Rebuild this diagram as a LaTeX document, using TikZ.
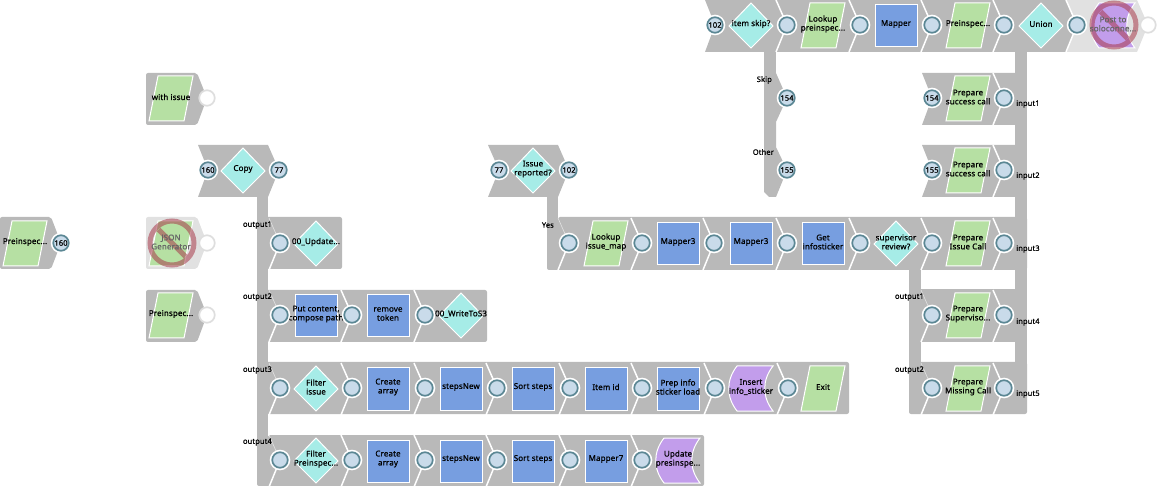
\documentclass[tikz,border=0pt]{standalone}
\usepackage{fontspec}
\setmainfont[FakeBold=0.7,LetterSpace=1.5]{Noto Sans}
\definecolor{bandgray}{HTML}{B9B9B9}
\definecolor{offgray}{HTML}{E1E1E1}
\definecolor{mapblue}{HTML}{779EE0}
\definecolor{docgreen}{HTML}{B6E0A3}
\definecolor{flowteal}{HTML}{A6ECE7}
\definecolor{writepurple}{HTML}{C29DEB}
\definecolor{portring}{HTML}{5B8794}
\definecolor{portfill}{HTML}{C9DBEA}
\definecolor{idlering}{HTML}{DEDEDE}
\definecolor{banred}{HTML}{A73A4B}
\tikzset{
  band/.style={fill=bandgray,draw=none},
  bar/.style={draw=bandgray,line width=11.5pt},
  seam/.style={draw=white,line width=1.5pt},
  faintseam/.style={draw=white,line width=.6pt,opacity=.6},
  iconline/.style={draw=white,line width=1pt},
  snaptext/.style={font=\fontsize{8}{9}\selectfont,align=center,inner sep=0pt},
  offtext/.style={snaptext,text=black!60},
  branch/.style={font=\fontsize{7.5}{9}\selectfont,inner sep=0pt},
  port/.style={circle,draw=portring,fill=portfill,line width=1.7pt,minimum size=15.5pt,inner sep=0pt,
    font=\fontsize{7.5}{9}\selectfont,preaction={draw=white,line width=5pt}},
  idleport/.style={circle,draw=idlering,fill=white,line width=1.7pt,minimum size=15.5pt,inner sep=0pt},
  ban/.style={draw=banred,line width=5pt,opacity=.55}
}
% icon macros: name, x, y, text
\newcommand{\mapicon}[4]{\path[fill=mapblue,iconline] (#2-21,#3-20) rectangle (#2+21,#3+22);
  \node[snaptext] (#1) at (#2,#3-1) {#4};}
\newcommand{\docicon}[4]{\path[fill=docgreen,iconline] (#2-13,#3-22) -- (#2+22,#3-22) -- (#2+13,#3+23) -- (#2-22,#3+23) -- cycle;
  \node[snaptext] (#1) at (#2,#3-1) {#4};}
\newcommand{\flowicon}[4]{\path[fill=flowteal,iconline] (#2,#3-22) -- (#2+22,#3+1) -- (#2,#3+23) -- (#2-22,#3+1) -- cycle;
  \node[snaptext] (#1) at (#2,#3-1) {#4};}
\newcommand{\writeicon}[4]{\path[fill=writepurple,iconline] (#2-14,#3-22) .. controls (#2-25,#3-8) and (#2-25,#3+9) .. (#2-14,#3+23)
  -- (#2+22,#3+23) .. controls (#2+11,#3+9) and (#2+11,#3-8) .. (#2+22,#3-22) -- cycle;
  \node[snaptext] (#1) at (#2,#3-1) {#4};}
% seam at a port: x, y
\newcommand{\seam}[2]{\draw[seam] (#1-11,#2-25) -- (#1,#2) -- (#1-11,#2+27);}
\newcommand{\inseam}[2]{\draw[faintseam] (#1-11,#2-25) -- (#1,#2); \draw[seam] (#1,#2) -- (#1-11,#2+27);}
\newcommand{\banmark}[3]{\node[circle,minimum size=44pt,inner sep=0pt,ban] (#1) at (#2,#3) {};
  \draw[ban] (#2-13.5,#3-13.5) -- (#2+13.5,#3+13.5);}
\begin{document}
\begin{tikzpicture}[x=1pt,y=-1pt]
    \useasboundingbox (0,0) rectangle (1157,486);
    %% Drop bars
    \coordinate (copydrop) at (262.5,197);
    \coordinate (copyfoot) at (262.5,478);
    \coordinate (issuedrop) at (552.5,197);
    \coordinate (issuefoot) at (552.5,262);
    \coordinate (skipdrop) at (770,52);
    \coordinate (skipfoot) at (770,190);
    \coordinate (reviewdrop) at (915,268);
    \coordinate (reviewfoot) at (915,390);
    \coordinate (uniondrop) at (1021,52);
    \coordinate (unionfoot) at (1021,390);
    \draw[bar] (copydrop) -- (copyfoot);
    \draw[bar] (issuedrop) -- (issuefoot);
    \draw[bar] (skipdrop) -- (skipfoot);
    \draw[bar] (reviewdrop) -- (reviewfoot);
    \draw[bar] (uniondrop) -- (unionfoot);
    %% Bands
    \fill[band] (705,0) -- (715,25) -- (705,52) -- (1067,52) -- (1077,25) -- (1066,0) -- cycle;
    \fill[offgray] (1066,0) -- (1077,25) -- (1067,52) -- (1137,52) -- (1148,25) -- (1137,0) -- cycle;
    \fill[band] (776,73) -- (787,98) -- (776,122) -- (776,147) -- (787,170) -- (776,197) -- (769,197) -- (764,192) -- (764,70) -- cycle;
    \fill[band,rounded corners=2pt] (146,73) -- (197,73) -- (207,98) -- (197,125) -- (146,125) -- cycle;
    \fill[offgray,rounded corners=2pt] (146,217) -- (197,217) -- (207,243) -- (197,269) -- (146,269) -- cycle;
    \fill[band,rounded corners=2pt] (146,290) -- (197,290) -- (207,315) -- (197,342) -- (146,342) -- cycle;
    \fill[band,rounded corners=2pt] (0,217) -- (51,217) -- (61,243) -- (51,269) -- (0,269) -- cycle;
    \fill[band] (198,145) -- (208,170) -- (198,197) -- (268,197) -- (279,170) -- (268,145) -- cycle;
    \fill[band] (488,145) -- (499,170) -- (488,197) -- (558,197) -- (569,170) -- (558,145) -- cycle;
    \fill[band] (922,73) -- (932,98) -- (922,125) -- (1020,125) -- (1020,73) -- cycle;
    \fill[band] (922,145) -- (932,170) -- (922,197) -- (1020,197) -- (1020,145) -- cycle;
    \fill[band,rounded corners=2pt] (257,470) -- (257,486) -- (704,486) -- (704,435) -- (268,435) -- cycle;
    \fill[band,rounded corners=2pt] (265,217) rectangle (342,269);
    \fill[band,rounded corners=2pt] (265,290) rectangle (487,342);
    \fill[band,rounded corners=2pt] (265,362) rectangle (849,414);
    \fill[band,rounded corners=2pt] (547,240) -- (547,270) -- (1027,270) -- (1027,217) -- (558,217) -- cycle;
    \fill[band] (915,289) rectangle (1020,342);
    \fill[band,rounded corners=2pt] (909,362) -- (909,414) -- (1027,414) -- (1027,362) -- cycle;
    %% Seams
    \foreach \px in {787,860,932,1004,1077} {\seam{\px}{25}}
    \foreach \px in {642,714,787,860,932,1004} {\seam{\px}{243}}
    \foreach \py in {98,170,315,388} {\seam{1004}{\py}}
    \foreach \py in {243,315,388,460} {\inseam{280}{\py}}
    \inseam{569}{243}
    \inseam{932}{315}
    \inseam{932}{388}
    \foreach \px in {352,425} {\seam{\px}{315}}
    \foreach \px in {352,425,497,570,642,715,788} {\seam{\px}{388}}
    \foreach \px in {352,425,497,570,642} {\seam{\px}{460}}
    %% Top row
    \flowicon{itemskip}{751}{25}{item skip?}
    \docicon{lookuppre}{823}{25}{Lookup\\preinspec...}
    \mapicon{mappertop}{896}{25}{Mapper}
    \docicon{pretop}{968}{25}{Preinspec...}
    \flowicon{union}{1041}{25}{Union}
    \writeicon{posticon}{1113}{25}{}
    %% Sources
    \docicon{withissue}{171}{98}{with issue}
    \docicon{prestart}{25}{243}{Preinspec...}
    \docicon{jsonicon}{171}{243}{}
    \docicon{prelow}{171}{315}{Preinspec...}
    %% Copy and router
    \flowicon{copy}{243}{170}{Copy}
    \flowicon{issue}{533}{170}{Issue\\reported?}
    %% Right column
    \docicon{success}{968}{98}{Prepare\\success call}
    \docicon{successb}{968}{170}{Prepare\\success call}
    \docicon{issuecall}{968}{243}{Prepare\\Issue Call}
    \docicon{supercall}{968}{315}{Prepare\\Superviso...}
    \docicon{missingcall}{968}{388}{Prepare\\Missing Call}
    %% Issue row
    \docicon{lookupissue}{606}{243}{Lookup\\issue\_map}
    \mapicon{mapthree}{678}{243}{Mapper3}
    \mapicon{mapthreeb}{751}{243}{Mapper3}
    \mapicon{getsticker}{823}{243}{Get\\infosticker}
    \flowicon{review}{896}{243}{supervisor\\review?}
    %% Output rows
    \flowicon{update}{316}{243}{00\_Update...}
    \mapicon{putcontent}{316}{315}{Put content,\\compose path}
    \mapicon{removetoken}{388}{315}{remove\\token}
    \flowicon{writes}{461}{315}{00\_WriteToS3}
    \flowicon{filterissue}{316}{388}{Filter\\issue}
    \mapicon{createa}{388}{388}{Create\\array}
    \mapicon{stepsa}{461}{388}{stepsNew}
    \mapicon{sorta}{533}{388}{Sort steps}
    \mapicon{itemid}{606}{388}{Item id}
    \mapicon{prepinfo}{678}{388}{Prep info\\sticker load}
    \writeicon{insertinfo}{751}{388}{Insert\\info\_sticker}
    \docicon{exit}{823}{388}{Exit}
    \flowicon{filterpre}{316}{460}{Filter\\Preinspec...}
    \mapicon{createb}{388}{460}{Create\\array}
    \mapicon{stepsb}{461}{460}{stepsNew}
    \mapicon{sortb}{533}{460}{Sort steps}
    \mapicon{mapseven}{606}{460}{Mapper7}
    \writeicon{updatepre}{678}{460}{Update\\presinspe...}
    %% Ports
    \foreach \px/\py/\num in {715/25/102,208/170/160,279/170/77,499/170/77,569/170/102,61/243/160,
        787/98/154,787/170/155,932/98/154,932/170/155} {
      \node[port] (port-\px-\py) at (\px,\py) {\num};
    }
    \foreach \px in {787,860,932,1004,1077} {\node[port] (port-\px-25) at (\px,25) {};}
    \foreach \px in {569,642,714,787,860,932,1004} {\node[port] (port-\px-243) at (\px,243) {};}
    \foreach \py in {98,170,315,388} {\node[port] (port-1004-\py) at (1004,\py) {};}
    \foreach \py in {315,388} {\node[port] (port-932-\py) at (932,\py) {};}
    \foreach \py in {243,315,388,460} {\node[port] (port-280-\py) at (280,\py) {};}
    \foreach \px in {352,425} {\node[port] (port-\px-315) at (\px,315) {};}
    \foreach \px in {352,425,497,570,642,715,788} {\node[port] (port-\px-388) at (\px,388) {};}
    \foreach \px in {352,425,497,570,642} {\node[port] (port-\px-460) at (\px,460) {};}
    \node[idleport] (idlepost) at (1148,25) {};
    \node[idleport] (idlewith) at (207,98) {};
    \node[idleport] (idlejson) at (207,243) {};
    \node[idleport] (idlelow) at (207,315) {};
    %% Disabled marks
    \banmark{banpost}{1114}{25}
    \banmark{banjson}{172}{243}
    \node[offtext] (post) at (1113,24) {Post to\\soloconne...};
    \node[offtext] (jsongen) at (171,242) {JSON\\Generator};
    %% Branch labels
    \node[branch,anchor=east] (labskip) at (772,80) {Skip};
    \node[branch,anchor=east] (labother) at (774,152) {Other};
    \node[branch,anchor=east] (labyes) at (554,225) {Yes};
    \foreach \ly/\num in {225/1,297/2,370/3,442/4} {\node[branch,anchor=east] (labout\num) at (272,\ly) {output\num};}
    \foreach \ly/\num in {297/1,370/2} {\node[branch,anchor=east] (labrev\num) at (924,\ly) {output\num};}
    \foreach \ly/\num in {104/1,176/2,249/3,322/4,394/5} {\node[branch,anchor=west] (labin\num) at (1016,\ly) {input\num};}
\end{tikzpicture}
\end{document}
